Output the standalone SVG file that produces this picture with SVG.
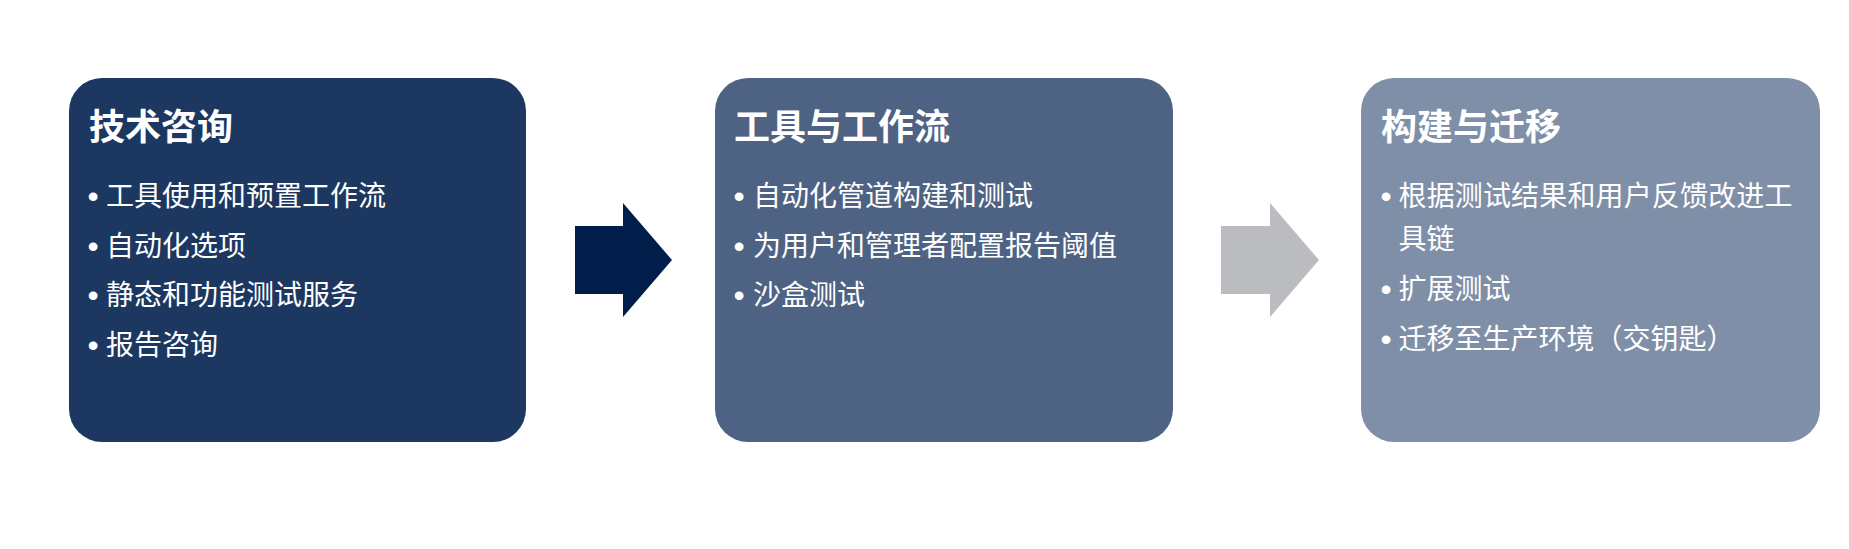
<svg xmlns="http://www.w3.org/2000/svg" width="1849" height="549" viewBox="0 0 1849 549">
  <style>
    .title { font-family: "Noto Sans CJK SC", "Noto Sans", sans-serif; font-size: 36px; font-weight: 700; fill: #FFFFFF; }
    .item { font-family: "Noto Sans CJK SC", "Noto Sans", sans-serif; font-size: 28px; fill: #FFFFFF; }
    .dot { font-family: "Liberation Sans", Arial, sans-serif; font-size: 32px; fill: #FFFFFF; text-anchor: middle; }
  </style>
  <rect x="0" y="0" width="1849" height="549" fill="#FFFFFF"/>

  <g id="connectors">
    <polygon id="arrow1" points="575,226 623,226 623,203 672,260 623,317 623,294 575,294" fill="#011E4A"/>
    <polygon id="arrow2" points="1221,226 1270,226 1270,203 1319,260 1270,317 1270,294 1221,294" fill="#BBBCC0"/>
  </g>

  <g id="node1">
    <rect x="69" y="78" width="457" height="364" rx="33" ry="33" fill="#1C3760"/>
    <text class="title" x="89" y="140">技术咨询</text>
    <text class="dot" x="93" y="207">•</text>
    <text class="item" x="106" y="206">工具使用和预置工作流</text>
    <text class="dot" x="93" y="256.5">•</text>
    <text class="item" x="106" y="255.5">自动化选项</text>
    <text class="dot" x="93" y="306">•</text>
    <text class="item" x="106" y="305">静态和功能测试服务</text>
    <text class="dot" x="93" y="355.5">•</text>
    <text class="item" x="106" y="354.5">报告咨询</text>
  </g>

  <g id="node2">
    <rect x="715" y="78" width="458" height="364" rx="33" ry="33" fill="#4E6384"/>
    <text class="title" x="734" y="140">工具与工作流</text>
    <text class="dot" x="739" y="207">•</text>
    <text class="item" x="753" y="206">自动化管道构建和测试</text>
    <text class="dot" x="739" y="256.5">•</text>
    <text class="item" x="753" y="255.5">为用户和管理者配置报告阈值</text>
    <text class="dot" x="739" y="306">•</text>
    <text class="item" x="753" y="305">沙盒测试</text>
  </g>

  <g id="node3">
    <rect x="1361" y="78" width="459" height="364" rx="33" ry="33" fill="#7F8FA7"/>
    <text class="title" x="1381" y="140">构建与迁移</text>
    <text class="dot" x="1386" y="207">•</text>
    <text class="item" x="1398.5" y="206" textLength="394" lengthAdjust="spacing">根据测试结果和用户反馈改进工</text>
    <text class="item" x="1398.5" y="249">具链</text>
    <text class="dot" x="1386" y="299.5">•</text>
    <text class="item" x="1398.5" y="298.5">扩展测试</text>
    <text class="dot" x="1386" y="349.5">•</text>
    <text class="item" x="1398.5" y="348.5">迁移至生产环境（交钥匙）</text>
  </g>
</svg>
